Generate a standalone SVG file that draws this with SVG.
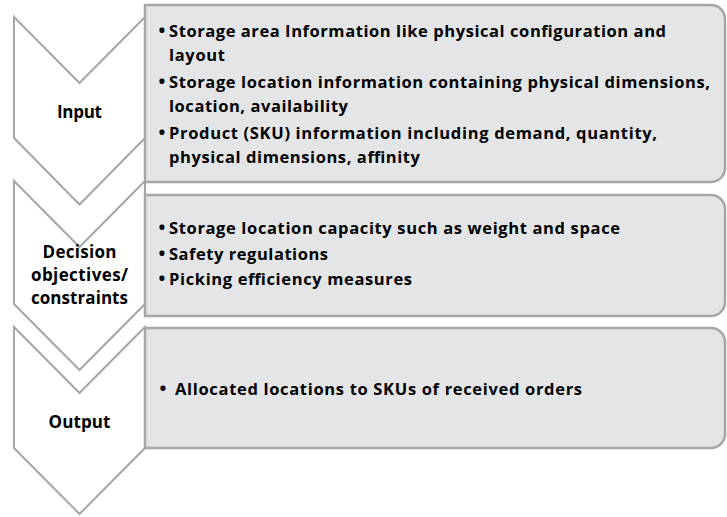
<svg xmlns="http://www.w3.org/2000/svg" width="727" height="517" viewBox="0 0 727 517">
<style>
.chev{fill:#ffffff;stroke:#a6a6a6;stroke-width:2;stroke-linejoin:miter}
.box{fill:#e4e5e7;stroke:#a6a6a6;stroke-width:2.5}
.t{font-family:"Open Sans","Noto Sans",sans-serif;font-weight:bold;font-size:16.5px;fill:#000}
.l{font-size:17px}
.b{font-size:18px}
.c{text-anchor:middle}
</style>
<rect width="727" height="517" fill="#ffffff"/>
<g id="input">
<path class="chev" d="M14,17 L79.5,83 L145,17 V138 L79.5,204.5 L14,138 Z"/>
<text class="t l c" x="79.5" y="118" textLength="45">Input</text>
</g>
<g id="decision">
<path class="chev" d="M14,181 L79.5,247 L145,181 V304 L79.5,370 L14,304 Z"/>
<text class="t l c" x="79.5" y="258" textLength="74">Decision</text>
<text class="t l c" x="79.5" y="281" textLength="97">objectives/</text>
<text class="t l c" x="79.5" y="304" textLength="97">constraints</text>
</g>
<g id="output">
<path class="chev" d="M14,327 L79.5,393 L145,327 V448 L79.5,514 L14,448 Z"/>
<text class="t l c" x="79.5" y="428" textLength="62">Output</text>
</g>
<g id="input-details">
<path class="box" d="M145,5 H711 A14,14 0 0 1 725,19 V168 A14,14 0 0 1 711,182 H145 Z"/>
<text class="t b" x="158.5" y="37">•</text>
<text class="t" x="169" y="37" textLength="497">Storage area Information like physical configuration and</text>
<text class="t" x="169" y="61" textLength="56">layout</text>
<text class="t b" x="158.5" y="88">•</text>
<text class="t" x="169" y="88" textLength="541">Storage location information containing physical dimensions,</text>
<text class="t" x="169" y="112" textLength="179">location, availability</text>
<text class="t b" x="158.5" y="139">•</text>
<text class="t" x="169" y="139" textLength="488">Product (SKU) information including demand, quantity,</text>
<text class="t" x="169" y="163" textLength="251">physical dimensions, affinity</text>
</g>
<g id="decision-details">
<path class="box" d="M145,195 H711 A14,14 0 0 1 725,209 V302 A14,14 0 0 1 711,316 H145 Z"/>
<text class="t b" x="158.5" y="234">•</text>
<text class="t" x="169" y="234" textLength="451">Storage location capacity such as weight and space</text>
<text class="t b" x="158.5" y="260">•</text>
<text class="t" x="169" y="260" textLength="159">Safety regulations</text>
<text class="t b" x="158.5" y="285">•</text>
<text class="t" x="169" y="285" textLength="243">Picking efficiency measures</text>
</g>
<g id="output-details">
<path class="box" d="M145,328 H711 A14,14 0 0 1 725,342 V434 A14,14 0 0 1 711,448 H145 Z"/>
<text class="t b" x="159.5" y="395">•</text>
<text class="t" x="175" y="395" textLength="407">Allocated locations to SKUs of received orders</text>
</g>
<g id="connectors"></g>
</svg>
